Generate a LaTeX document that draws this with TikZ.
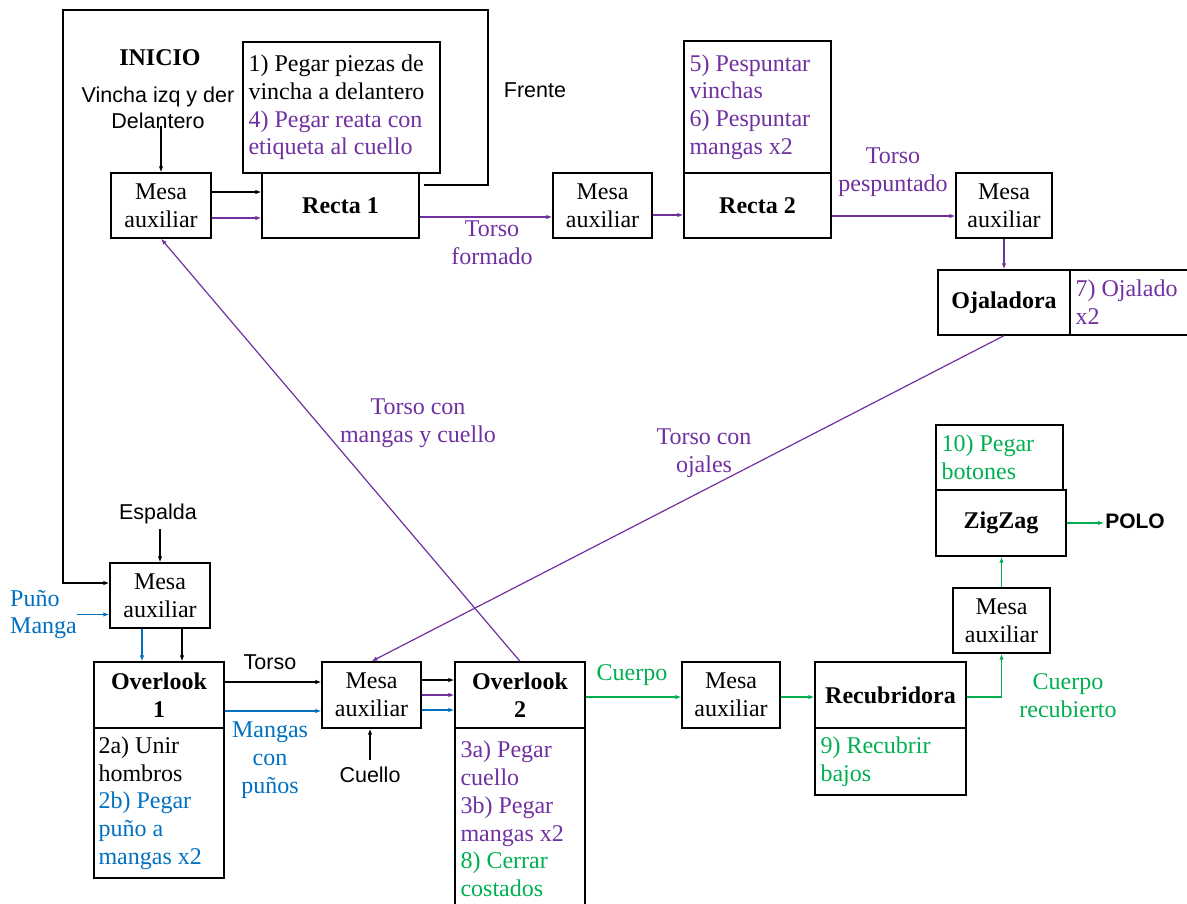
\documentclass[tikz,border=0pt]{standalone}
\usepackage{fontspec}
\setmainfont{Liberation Serif}
\newfontfamily\arial{Liberation Sans}
\usetikzlibrary{arrows.meta,calc}
\definecolor{pur}{HTML}{7030A0}
\definecolor{blu}{HTML}{0070C0}
\definecolor{grn}{HTML}{00B050}
\begin{document}
\begin{tikzpicture}[x=1pt,y=-1pt,
  font=\fontsize{24}{27.7}\selectfont,
  bx/.style={draw, line width=1.3pt, inner sep=0pt, align=center},
  bold/.style={font=\bfseries\fontsize{24}{27.7}\selectfont},
  txt/.style={inner sep=0pt, align=left, anchor=west},
  lbl/.style={inner sep=1pt, align=center},
  sans/.style={font=\arial\fontsize{21.5}{26}\selectfont},
  con/.style={line width=1.2pt, -{Latex[length=6pt,width=4.5pt]}}
]
\useasboundingbox (0,0) rectangle (1187,903);

% ---------- top row ----------
\node[lbl, bold] (inicio) at (160,58) {INICIO};
\node[lbl, sans] (vin) at (158,108) {Vincha izq y der\\Delantero};
\node[lbl, sans] (frente) at (535,90) {Frente};

\node[bx, minimum width=100pt, minimum height=65pt] (m1) at (161,205.5) {Mesa\\auxiliar};
\node[bx, minimum width=197pt, minimum height=131pt] (r1t) at (341.5,107.5) {};
\node[bx, bold, minimum width=157pt, minimum height=65pt] (r1) at (340.5,205.5) {Recta 1};
\node[txt] (r1tx) at ([xshift=6pt]r1t.west) {1) Pegar piezas de\\vincha a delantero\\\color{pur}4) Pegar reata con\\\color{pur}etiqueta al cuello};

\node[bx, minimum width=99pt, minimum height=65pt] (m2) at (602.5,205.5) {Mesa\\auxiliar};
\node[bx, minimum width=147pt, minimum height=132pt] (r2t) at (757.5,107) {};
\node[bx, bold, minimum width=147pt, minimum height=65pt] (r2) at (757.5,205.5) {Recta 2};
\node[txt, text=pur] (r2tx) at ([xshift=6pt]r2t.west) {5) Pespuntar\\vinchas\\6) Pespuntar\\mangas x2};

\node[bx, minimum width=96pt, minimum height=65pt] (m3) at (1004,205.5) {Mesa\\auxiliar};
\node[bx, bold, minimum width=132pt, minimum height=65pt] (oj) at (1004,302.5) {Ojaladora};
\node[bx, minimum width=121pt, minimum height=65pt] (ojt) at (1130.5,302.5) {};
\node[txt, text=pur] (ojtx) at ([xshift=6pt]ojt.west) {7) Ojalado\\x2};

\node[lbl, text=pur] (torsof) at (492,243) {Torso\\formado};
\node[lbl, text=pur] (torsop) at (893,172) {Torso\\pespuntado};
\node[lbl, text=pur] (torsomc) at (418,423) {Torso con\\mangas y cuello};
\node[lbl, text=pur] (torsooj) at (704,453) {Torso con\\ojales};

% ---------- bottom row ----------
\node[lbl, sans] (esp) at (158,514) {Espalda};
\node[txt, text=blu] (pm) at (10,614.5) {Puño\\Manga};
\node[bx, minimum width=100pt, minimum height=65pt] (m4) at (160,595.5) {Mesa\\auxiliar};

\node[bx, bold, minimum width=130pt, minimum height=66pt] (ov1) at (159,695) {Overlook\\1};
\node[bx, minimum width=130pt, minimum height=150pt] (ov1t) at (159,803) {};
\node[txt] (ov1tx) at ([xshift=5pt]ov1t.west) {2a) Unir\\hombros\\\color{blu}2b) Pegar\\\color{blu}puño a\\\color{blu}mangas x2};

\node[lbl, sans] (torso) at (270,662) {Torso};
\node[lbl, text=blu] (mcp) at (270,760) {Mangas\\con\\puños};

\node[bx, minimum width=99pt, minimum height=66pt] (m5) at (371.5,695) {Mesa\\auxiliar};
\node[lbl, sans] (cuello) at (370,775) {Cuello};

\node[bx, bold, minimum width=130pt, minimum height=66pt] (ov2) at (520,695) {Overlook\\2};
\node[bx, minimum width=130pt, minimum height=180pt] (ov2t) at (520,818) {};
\node[txt] (ov2tx) at ([xshift=6pt,yshift=-1pt]ov2t.west) {\color{pur}3a) Pegar\\\color{pur}cuello\\\color{pur}3b) Pegar\\\color{pur}mangas x2\\\color{grn}8) Cerrar\\\color{grn}costados};

\node[lbl, text=grn] (cuerpo) at (632,675) {Cuerpo};
\node[bx, minimum width=98pt, minimum height=66pt] (m6) at (731,695) {Mesa\\auxiliar};
\node[bx, bold, minimum width=151pt, minimum height=66pt] (rec) at (890.5,695) {Recubridora};
\node[bx, minimum width=151pt, minimum height=67pt] (rect) at (890.5,761.5) {};
\node[txt, text=grn] (rectx) at ([xshift=6pt]rect.west) {9) Recubrir\\bajos};
\node[lbl, text=grn] (cuerpor) at (1068,696) {Cuerpo\\recubierto};

\node[bx, minimum width=97pt, minimum height=65pt] (m7) at (1001.5,620.5) {Mesa\\auxiliar};
\node[bx, bold, minimum width=130pt, minimum height=66pt] (zz) at (1001,523) {ZigZag};
\node[bx, minimum width=127pt, minimum height=65pt] (zzt) at (999.5,457.5) {};
\node[txt, text=grn] (zztx) at ([xshift=6pt]zzt.west) {10) Pegar\\botones};
\node[lbl, font=\arial\bfseries\fontsize{21}{24}\selectfont] (polo) at (1135,521) {POLO};

% ---------- connectors ----------
\coordinate (loopTR) at (488,10);
\coordinate (loopTL) at (63,10);
\draw[con] ([xshift=4pt,yshift=20.5pt]r1.east) -| (loopTR) -- (loopTL) |- ([yshift=12.5pt]m4.west);

\draw[con] (m1.north |- vin.south) ++(0,-4) -- (m1.north);
\draw[con] ([yshift=13.5pt]m1.east) -- ([yshift=13.5pt]r1.west);
\draw[con, pur] ([yshift=-12.5pt]m1.east) -- ([yshift=-12.5pt]r1.west);
\draw[con, pur] ([yshift=-11.5pt]r1.east) -- ([yshift=-11.5pt]m2.west);
\draw[con, pur] ([yshift=-9.5pt]m2.east) -- ([yshift=-9.5pt]r2.west);
\draw[con, pur] ([yshift=-10.5pt]r2.east) -- ([yshift=-10.5pt]m3.west);
\draw[con, pur] (m3.south) -- (oj.north);
\draw[con, pur] (oj.south) -- (m5.north);
\draw[con, pur] (ov2.north) -- (m1.south);

\draw[con] (m4.north |- esp.south) ++(0,4) -- (m4.north);
\draw[con, blu] (pm.east) -- (pm.east -| m4.west);
\draw[con, blu] ([xshift=-18pt]m4.south) -- ([xshift=-18pt]m4.south |- ov1.north);
\draw[con] ([xshift=22pt]m4.south) -- ([xshift=22pt]m4.south |- ov1.north);
\draw[con] ([yshift=13pt]ov1.east) -- ([yshift=13pt]m5.west);
\draw[con, blu] ([yshift=-16pt]ov1.east) -- ([yshift=-16pt]m5.west);
\draw[con] (cuello.north) ++(0,-6) -- (cuello.north |- m5.south);
\draw[con] ([yshift=15pt]m5.east) -- ([yshift=15pt]ov2.west);
\draw[con, pur] (m5.east) -- (ov2.west);
\draw[con, blu] ([yshift=-15pt]m5.east) -- ([yshift=-15pt]ov2.west);
\draw[con, grn] ([yshift=-2pt]ov2.east) -- ([yshift=-2pt]m6.west);
\draw[con, grn] ([yshift=-2pt]m6.east) -- ([yshift=-2pt]rec.west);
\draw[con, grn] ([yshift=-2pt]rec.east) -| (m7.south);
\draw[con, grn] (m7.north) -- (m7.north |- zz.south);
\draw[con, grn] (zz.east) -- (zz.east -| polo.west);
\end{tikzpicture}
\end{document}
